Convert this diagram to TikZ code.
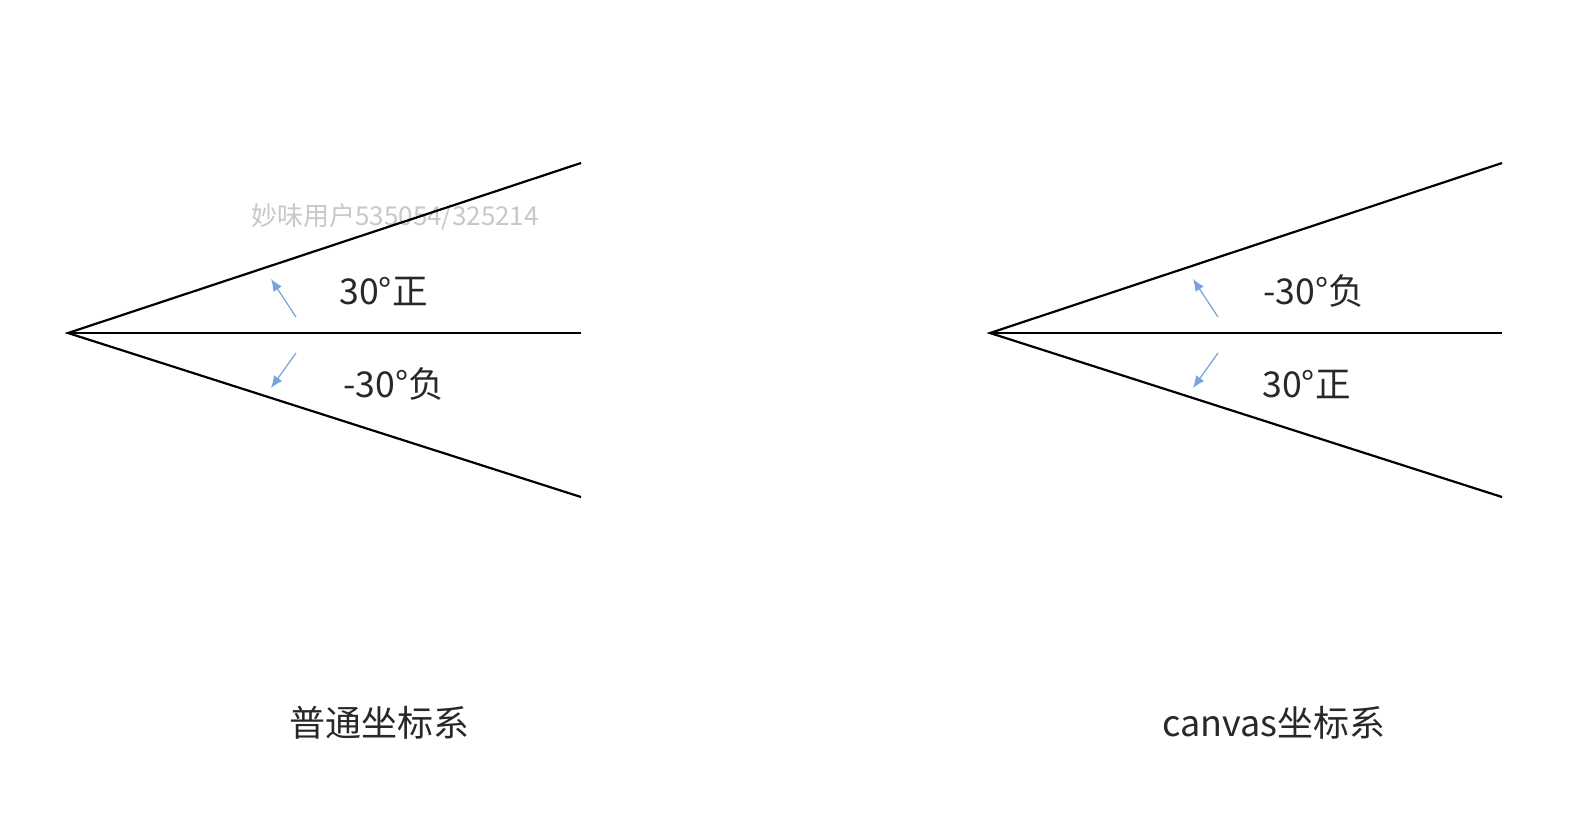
\documentclass[tikz,border=0pt]{standalone}
\usepackage{fontspec}
\setmainfont{Noto Sans CJK SC}
\usetikzlibrary{arrows.meta}
\definecolor{arrowblue}{RGB}{120,163,216}
\definecolor{wmgray}{RGB}{200,200,200}
\definecolor{txt}{RGB}{40,40,40}
\tikzset{
  ray/.style={line width=1.1pt, black},
  turn/.style={line width=0.6pt, arrowblue, -{Latex[length=6pt,width=5pt]}},
  lbl/.style={inner sep=0pt, text=txt, font=\fontsize{17.8}{20}\selectfont},
  caption/.style={inner sep=0pt, text=txt, font=\fontsize{18}{20}\selectfont},
  wm/.style={inner sep=0pt, text=wmgray, font=\fontsize{13}{15}\selectfont}
}
\begin{document}
\begin{tikzpicture}[x=0.5pt,y=-0.5pt]
\useasboundingbox[fill=white] (0,0) rectangle (1590,826);
% left diagram
\coordinate (LA) at (68,333);
\coordinate (LU) at (581,163);
\coordinate (LM) at (581,333);
\coordinate (LD) at (581,497);
\node[wm, anchor=west] (wmark) at (251,217) {妙味用户535054/325214};
\draw[ray] (LU) -- (LA) -- (LD);
\draw[ray] (LA) -- (LM);
\coordinate (LuS) at (296,317);
\coordinate (LuE) at (271,279);
\coordinate (LdS) at (296,353);
\coordinate (LdE) at (271,388);
\draw[turn] (LuS) -- (LuE);
\draw[turn] (LdS) -- (LdE);
\node[lbl, anchor=west] (lpos) at (339,291) {30°正};
\node[lbl, anchor=west] (lneg) at (343,384) {-30°负};
\node[caption] (lcap) at (379,723) {普通坐标系};
% right diagram
\coordinate (RA) at (990,333);
\coordinate (RU) at (1502,163);
\coordinate (RM) at (1502,333);
\coordinate (RD) at (1502,497);
\draw[ray] (RU) -- (RA) -- (RD);
\draw[ray] (RA) -- (RM);
\coordinate (RuS) at (1218,317);
\coordinate (RuE) at (1193,279);
\coordinate (RdS) at (1218,353);
\coordinate (RdE) at (1193,388);
\draw[turn] (RuS) -- (RuE);
\draw[turn] (RdS) -- (RdE);
\node[lbl, anchor=west] (rneg) at (1263,291) {-30°负};
\node[lbl, anchor=west] (rpos) at (1262,384) {30°正};
\node[caption] (rcap) at (1274,723) {canvas坐标系};
\end{tikzpicture}
\end{document}
